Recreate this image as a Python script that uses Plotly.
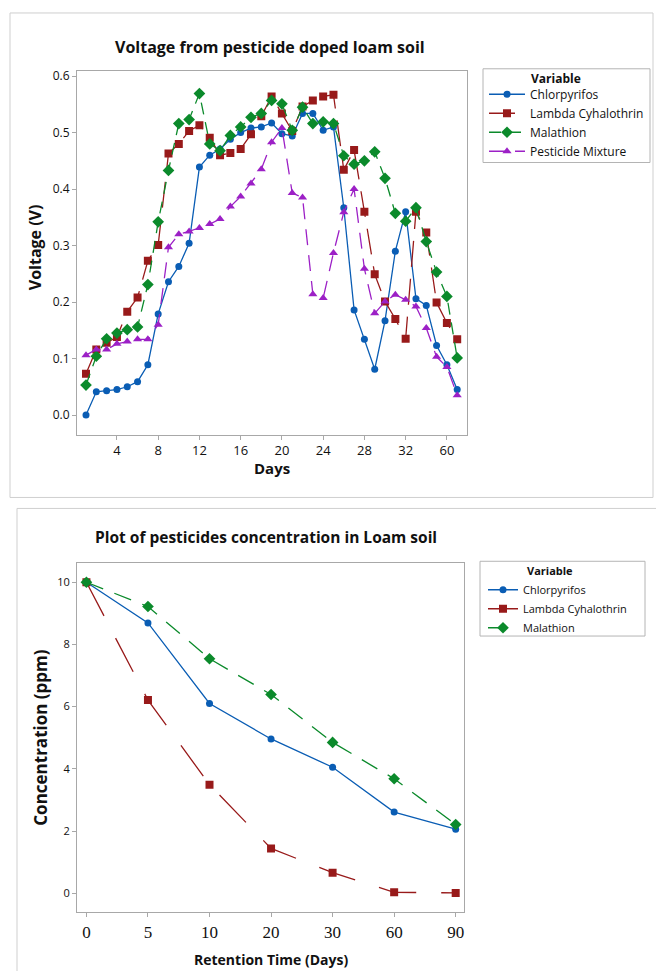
import plotly.graph_objects as go

# ---------------- Data: top chart (voltage) ----------------
day_index = list(range(1, 38))
day_tick_vals = [4, 8, 12, 16, 20, 24, 28, 32, 36]
day_tick_text = ["4", "8", "12", "16", "20", "24", "28", "32", "60"]

chlorpyrifos_v = [0.000, 0.041, 0.043, 0.045, 0.050, 0.059, 0.089, 0.179, 0.236, 0.263,
                  0.304, 0.439, 0.460, 0.471, 0.488, 0.500, 0.508, 0.510, 0.517, 0.498,
                  0.494, 0.534, 0.534, 0.504, 0.510, 0.367, 0.186, 0.134, 0.081, 0.167,
                  0.290, 0.360, 0.206, 0.194, 0.123, 0.089, 0.045]
lambda_v = [0.073, 0.116, 0.128, 0.138, 0.183, 0.208, 0.273, 0.301, 0.463, 0.480,
            0.503, 0.513, 0.491, 0.460, 0.464, 0.471, 0.497, 0.529, 0.564, 0.534,
            0.503, 0.546, 0.557, 0.564, 0.567, 0.434, 0.469, 0.360, 0.249, 0.201,
            0.170, 0.135, 0.360, 0.323, 0.199, 0.163, 0.134]
malathion_v = [0.053, 0.104, 0.135, 0.145, 0.151, 0.156, 0.231, 0.342, 0.433, 0.516,
               0.523, 0.569, 0.480, 0.468, 0.495, 0.510, 0.527, 0.534, 0.557, 0.551,
               0.504, 0.545, 0.516, 0.519, 0.516, 0.459, 0.444, 0.450, 0.466, 0.419,
               0.357, 0.343, 0.367, 0.307, 0.253, 0.210, 0.101]
mixture_v = [0.106, 0.116, 0.116, 0.126, 0.130, 0.134, 0.134, 0.160, 0.297, 0.320,
             0.325, 0.331, 0.338, 0.347, 0.369, 0.387, 0.410, 0.435, 0.483, 0.508,
             0.393, 0.385, 0.214, 0.207, 0.287, 0.359, 0.400, 0.259, 0.180, 0.201,
             0.213, 0.204, 0.192, 0.154, 0.103, 0.085, 0.035]

# ---------------- Data: bottom chart (concentration) ----------------
retention_labels = ["0", "5", "10", "20", "30", "60", "90"]
retention_index = list(range(len(retention_labels)))
chlorpyrifos_c = [10.0, 8.69, 6.10, 4.96, 4.05, 2.61, 2.06]
lambda_c = [10.0, 6.21, 3.49, 1.44, 0.66, 0.03, 0.01]
malathion_c = [10.0, 9.22, 7.54, 6.39, 4.85, 3.68, 2.21]

# ---------------- Styles ----------------
BLUE = "#0A5DB4"
RED = "#981A1A"
GREEN = "#0B8A2B"
PURPLE = "#9C20C6"
FONT = "Open Sans"
TXT = "#111111"
AXC = "#a8a8a8"
W, H = 656, 971


def px_x(p):
    return p / W


def px_y(p):
    return 1 - p / H


fig = go.Figure()

top_series = [
    ("Chlorpyrifos", chlorpyrifos_v, BLUE, "circle", "solid", 7),
    ("Lambda Cyhalothrin", lambda_v, RED, "square", "26px,12px", 8),
    ("Malathion", malathion_v, GREEN, "diamond", "12px,8px", 9),
    ("Pesticide Mixture", mixture_v, PURPLE, "triangle-up", "16px,10px", 8),
]
for name, vals, col, sym, dash, ms in top_series:
    fig.add_trace(go.Scatter(
        x=day_index, y=vals, name=name, mode="lines+markers",
        line=dict(color=col, width=1.3, dash=dash),
        marker=dict(color=col, symbol=sym, size=ms),
        xaxis="x", yaxis="y", legend="legend"))

bottom_series = [
    ("Chlorpyrifos", chlorpyrifos_c, BLUE, "circle", "solid", 7),
    ("Lambda Cyhalothrin", lambda_c, RED, "square", "38px,25px", 8),
    ("Malathion", malathion_c, GREEN, "diamond", "18px,12px", 9),
]
for name, vals, col, sym, dash, ms in bottom_series:
    fig.add_trace(go.Scatter(
        x=retention_index, y=vals, name=name, mode="lines+markers",
        line=dict(color=col, width=1.3, dash=dash),
        marker=dict(color=col, symbol=sym, size=ms),
        xaxis="x2", yaxis="y2", legend="legend2"))

axis_common = dict(showline=True, linecolor=AXC, linewidth=1, mirror=True,
                   ticks="outside", ticklen=4, tickcolor=AXC, showgrid=False,
                   zeroline=False)

fig.update_layout(
    width=W, height=H,
    margin=dict(l=0, r=0, t=0, b=0),
    paper_bgcolor="white", plot_bgcolor="white",
    font=dict(family=FONT, color=TXT),
    xaxis=dict(domain=[px_x(77), px_x(467)], anchor="y", range=[0.127, 37.95],
               tickvals=day_tick_vals, ticktext=day_tick_text,
               tickfont=dict(size=13, family=FONT, color=TXT), **axis_common),
    yaxis=dict(domain=[px_y(433), px_y(68)], anchor="x", range=[-0.0348, 0.6094],
               tickvals=[0, 0.1, 0.2, 0.3, 0.4, 0.5, 0.6], tickformat=".1f",
               tickfont=dict(size=12, family=FONT, color=TXT), **axis_common),
    xaxis2=dict(domain=[px_x(77), px_x(464)], anchor="y2", range=[-0.153, 6.135],
                tickvals=retention_index, ticktext=retention_labels,
                tickfont=dict(size=17, family="Liberation Serif", color=TXT), **axis_common),
    yaxis2=dict(domain=[px_y(912), px_y(562)], anchor="x2", range=[-0.61, 10.61],
                tickvals=[0, 2, 4, 6, 8, 10],
                tickfont=dict(size=11, family=FONT, color=TXT), **axis_common),
    legend=dict(x=px_x(484), y=px_y(77), xanchor="left", yanchor="top",
                bgcolor="rgba(0,0,0,0)", borderwidth=0, itemwidth=36,
                font=dict(size=12, family=FONT, color=TXT), tracegroupgap=0),
    legend2=dict(x=px_x(483), y=px_y(574), xanchor="left", yanchor="top",
                 bgcolor="rgba(0,0,0,0)", borderwidth=0,
                 font=dict(size=11, family=FONT, color=TXT), tracegroupgap=0),
    showlegend=True,
)

# Outer frames and legend boxes
frame = dict(type="rect", xref="paper", yref="paper", line=dict(color="#cfcfcf", width=1),
             fillcolor="rgba(0,0,0,0)", layer="below")
fig.add_shape(x0=px_x(10), x1=px_x(653), y0=px_y(496), y1=px_y(10), **frame)
fig.add_shape(x0=px_x(17), x1=px_x(662), y0=px_y(975), y1=px_y(507), **frame)
lbox = dict(type="rect", xref="paper", yref="paper", line=dict(color="#b4b4b4", width=1),
            fillcolor="rgba(0,0,0,0)", layer="below")
fig.add_shape(x0=px_x(483), x1=px_x(650), y0=px_y(160), y1=px_y(66), **lbox)
fig.add_shape(x0=px_x(480), x1=px_x(645), y0=px_y(635), y1=px_y(560), **lbox)

ann = dict(xref="paper", yref="paper", showarrow=False)
fig.add_annotation(x=px_x(270), y=px_y(44), text="<b>Voltage from pesticide doped loam soil</b>",
                   font=dict(size=16, family=FONT, color=TXT), xanchor="center", yanchor="middle", **ann)
fig.add_annotation(x=px_x(272), y=px_y(466), text="<b>Days</b>",
                   font=dict(size=15, family=FONT, color=TXT), xanchor="center", yanchor="middle", **ann)
fig.add_annotation(x=px_x(35), y=px_y(245), text="<b>Voltage (V)</b>", textangle=-90,
                   font=dict(size=16, family=FONT, color=TXT), xanchor="center", yanchor="middle", **ann)
fig.add_annotation(x=px_x(529), y=px_y(76), text="<b>Variable</b>",
                   font=dict(size=12, family=FONT, color=TXT), xanchor="left", yanchor="middle", **ann)

fig.add_annotation(x=px_x(266), y=px_y(536), text="<b>Plot of pesticides concentration in Loam soil</b>",
                   font=dict(size=15.5, family=FONT, color=TXT), xanchor="center", yanchor="middle", **ann)
fig.add_annotation(x=px_x(271), y=px_y(959), text="<b>Retention Time (Days)</b>",
                   font=dict(size=14, family=FONT, color=TXT), xanchor="center", yanchor="middle", **ann)
fig.add_annotation(x=px_x(41), y=px_y(737), text="<b>Concentration (ppm)</b>", textangle=-90,
                   font=dict(size=17, family=FONT, color=TXT), xanchor="center", yanchor="middle", **ann)
fig.add_annotation(x=px_x(525), y=px_y(569), text="<b>Variable</b>",
                   font=dict(size=11, family=FONT, color=TXT), xanchor="left", yanchor="middle", **ann)

fig.write_html("out.html", config={"displayModeBar": False},
               post_script="document.body.style.margin='0';document.body.style.overflow='hidden';")
